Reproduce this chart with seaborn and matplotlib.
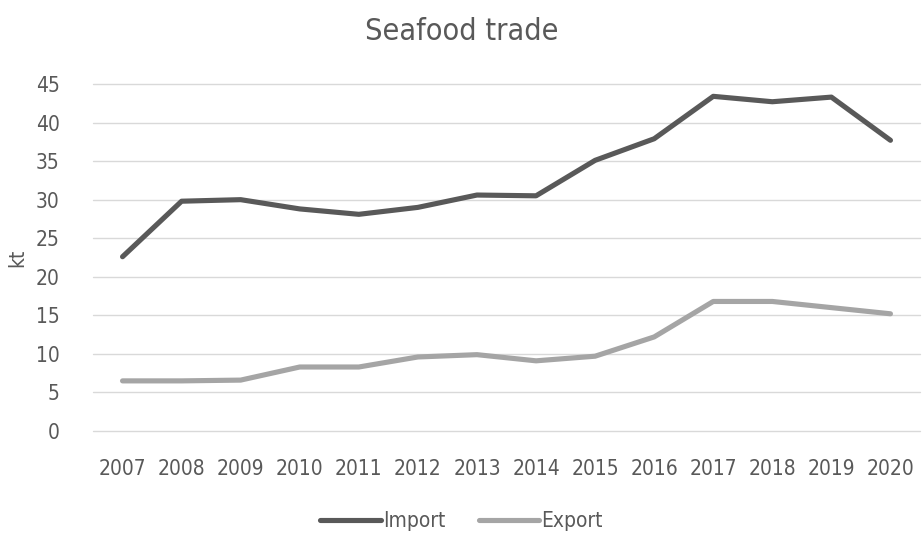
import matplotlib
matplotlib.use('Agg')
import matplotlib.pyplot as plt
import seaborn as sns
import pandas as pd

years = [str(y) for y in range(2007, 2021)]
import_kt = [22.6, 29.8, 30.0, 28.8, 28.1, 29.0, 30.6, 30.5, 35.1, 37.9, 43.4, 42.7, 43.3, 37.7]
export_kt = [6.5, 6.5, 6.6, 8.3, 8.3, 9.6, 9.9, 9.1, 9.7, 12.2, 16.8, 16.8, 16.0, 15.2]
y_ticks = list(range(0, 50, 5))

sns.set_theme(style="white")
plt.rcParams['font.family'] = ['DejaVu Sans']
plt.rcParams['font.stretch'] = 'condensed'

df = pd.DataFrame({"year": years * 2,
                   "kt": import_kt + export_kt,
                   "series": ["Import"] * len(years) + ["Export"] * len(years)})

text_col = "#595959"
fig = plt.figure(figsize=(9.23, 5.35), dpi=100)
ax = fig.add_axes([93 / 923, 1 - 431 / 535, 827 / 923, (431 - 84) / 535])

sns.lineplot(data=df, x="year", y="kt", hue="series", sort=False,
             palette={"Import": "#595959", "Export": "#a5a5a5"},
             linewidth=3.7, ax=ax, legend=True, solid_capstyle="round")

ax.set_xlim(-0.5, len(years) - 0.5)
ax.set_ylim(0, 45)
ax.set_yticks(y_ticks)
ax.grid(axis="y", color="#d9d9d9", linewidth=1)
for gl in ax.get_ygridlines():
    gl.set_clip_on(False)
ax.set_axisbelow(True)
for s in ax.spines.values():
    s.set_visible(False)
ax.tick_params(axis="both", length=0, labelsize=15, colors=text_col)
ax.tick_params(axis="x", pad=20)
ax.tick_params(axis="y", pad=24)
ax.set_xlabel("")
ax.set_ylabel("kt", fontsize=15, color=text_col, labelpad=6)
fig.text(0.5, 1 - 31 / 535, "Seafood trade", fontsize=22, color=text_col,
         ha="center", va="center")

handles, labels = ax.get_legend_handles_labels()
for h in handles:
    h.set_solid_capstyle("round")
leg = ax.legend(handles, labels, loc="center", bbox_to_anchor=(0.5, 1 - 521 / 535),
                bbox_transform=fig.transFigure, ncol=2, frameon=False,
                fontsize=15, handlelength=2.9, handletextpad=0.1, columnspacing=1.6)
for t in leg.get_texts():
    t.set_color(text_col)

fig.savefig("out.png", dpi=100)
